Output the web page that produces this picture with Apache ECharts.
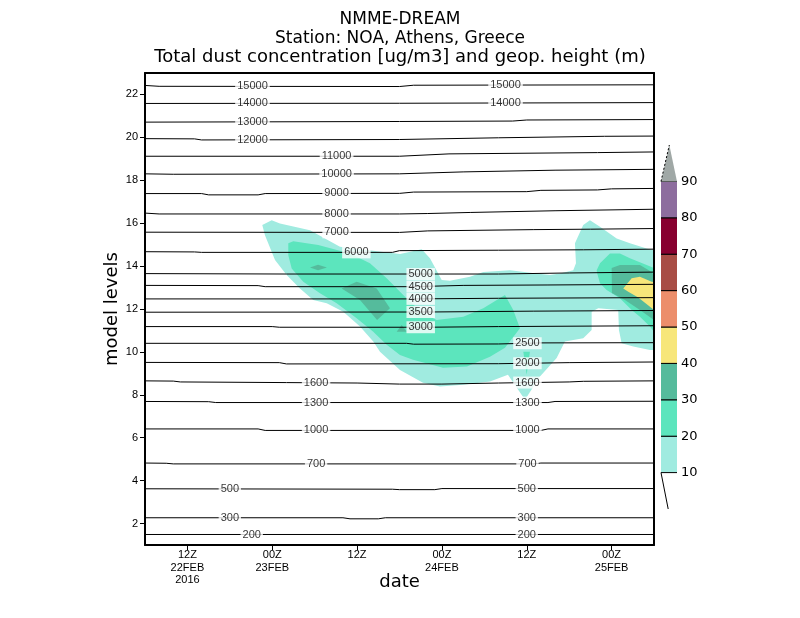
<!DOCTYPE html>
<html><head><meta charset="utf-8">
<script src="https://cdn.jsdelivr.net/npm/echarts@6/dist/echarts.min.js"></script>
<style>html,body{margin:0;padding:0;background:#fff}#c{width:800px;height:618px}</style>
</head><body><div id="c"></div>
<script>
// ---- axes (hours since 06Z 22FEB2016, model levels) ----
const timeTicks = [6, 18, 30, 42, 54, 66];
const timeTickLabels = ['12Z\n22FEB\n2016', '00Z\n23FEB', '12Z', '00Z\n24FEB', '12Z', '00Z\n25FEB'];
const levelTicks = [2, 4, 6, 8, 10, 12, 14, 16, 18, 20, 22];

// ---- dust concentration shading ----
const dustThresholds = [10, 20, 30, 40, 50, 60, 70, 80, 90];
const dustColors = ['#a0ebe0', '#5ce5bd', '#55bb9c', '#f7e67a', '#ec8e6b', '#a84d45', '#87002f', '#8d6d9e'];
const overColor = '#a0a8a6';

// regions (hour, level) where concentration >= threshold
const dust10 = [[16.59,15.91],[17.92,16.14],[19.09,15.99],[23.34,15.67],[27.58,14.90],[36.07,14.56],[39.14,14.79],[40.31,14.36],[41.97,13.35],[43.14,13.32],[45.97,13.50],[47.85,13.73],[51.63,13.81],[55.40,13.66],[57.28,13.58],[58.70,13.66],[60.58,13.81],[60.96,14.13],[60.82,15.06],[61.99,15.91],[62.94,16.14],[64.36,15.83],[66.72,15.29],[68.60,15.06],[70.96,14.82],[72,14.74],[72,10.09],[71.43,10.09],[69.07,10.25],[67.42,10.40],[67.04,11.02],[66.94,11.95],[64.12,12.03],[63.18,11.87],[63.18,11.02],[61.99,10.64],[59.40,10.48],[58.23,9.72],[55.87,8.85],[53.75,7.77],[51.34,8.93],[48.80,8.62],[44.98,8.47],[41.72,8.39],[39.32,8.56],[36.07,9.16],[33.24,10.01],[32.29,10.48],[30.41,11.18],[28.05,11.87],[25.70,12.27],[23.80,12.42],[21.92,12.96],[20.04,13.58],[18.39,14.28],[16.97,15.44]];
const dust20Main = [[20.27,15.06],[20.98,15.16],[24.51,14.98],[29.00,14.59],[31.82,14.13],[34.19,13.43],[36.07,12.80],[37.48,12.34],[39.36,11.80],[41.26,11.49],[45.02,11.64],[47.85,12.03],[50.92,12.65],[52.09,11.95],[53.04,11.10],[50.92,10.19],[48.80,9.78],[45.54,9.32],[42.15,9.26],[37.91,9.63],[36.07,9.86],[34.19,10.33],[32.29,10.94],[29.94,11.57],[27.11,12.27],[24.75,12.73],[22.39,13.27],[20.75,13.89],[20.27,14.51]];
const dust20Spike = [[53.51,10.01],[54.45,10.01],[53.99,8.93]];
const dust20Right = [[63.89,13.81],[64.36,14.13],[65.77,14.59],[67.18,14.59],[68.60,14.36],[70.96,14.05],[72,13.91],[72,10.94],[71.43,11.18],[70.01,11.64],[68.84,11.95],[67.18,12.50],[65.30,12.88],[64.36,13.20],[63.97,13.66]];
const dust30Lens = [[23.34,13.94],[24.47,14.06],[25.74,13.94],[24.47,13.81]];
const dust30Core = [[27.82,12.96],[29.94,13.27],[32.77,12.96],[34.65,12.03],[32.83,11.49],[30.41,12.42]];
const dust30Dot = [[35.60,10.94],[36.31,11.26],[37.02,10.94]];
const dust30Right = [[66.01,13.91],[67.18,14.05],[70.01,14.05],[71.67,13.73],[72,13.54],[72,11.49],[70.01,11.95],[67.89,12.42],[66.05,12.74]];
const dust40Right = [[67.65,12.96],[68.84,13.43],[70.01,13.50],[71.67,13.27],[72,13.26],[72,11.95],[71.43,12.11],[69.77,12.54],[68.36,12.80]];

// ---- geopotential height contours (hour, level) ----
const z15000 = [[0,22.42],[2,22.38],[36,22.37],[38,22.43],[72,22.45]];
const z14000 = [[0,21.58],[36,21.59],[72,21.62]];
const z13000 = [[0,20.71],[36,20.74],[52,20.76],[54,20.81],[72,20.83]];
const z12000 = [[0,19.94],[7,19.93],[8,19.88],[36,19.9],[50,19.98],[65,20.05],[72,20.06]];
const z11000 = [[0,19.12],[36,19.12],[43,19.23],[64,19.29],[72,19.32]];
const z10000 = [[0,18.3],[4,18.28],[36,18.3],[45,18.39],[58,18.47],[72,18.51]];
const z9000 = [[0,17.38],[8,17.38],[9,17.32],[16,17.32],[17,17.38],[36,17.39],[38,17.45],[54,17.47],[56,17.53],[64,17.55],[66,17.6],[72,17.62]];
const z8000 = [[0,16.47],[2,16.43],[36,16.43],[40,16.45],[46,16.5],[58,16.58],[72,16.65]];
const z7000 = [[0,15.58],[36,15.57],[40,15.64],[55,15.7],[63,15.72],[72,15.75]];
const z6000 = [[0,14.67],[7,14.66],[8,14.64],[35,14.64],[36,14.72],[50,14.74],[62,14.76],[72,14.79]];
const z5000 = [[0,13.65],[20,13.63],[50,13.63],[60,13.68],[72,13.72]];
const z4500 = [[0,13.1],[16,13.09],[17,13.04],[38,13.04],[45,13.1],[57,13.12],[72,13.15]];
const z4000 = [[0,12.47],[38,12.47],[50,12.5],[72,12.53]];
const z3500 = [[0,11.85],[40,11.86],[55,11.9],[72,11.93]];
const z3000 = [[0,11.18],[18,11.18],[19,11.15],[40,11.15],[50,11.18],[72,11.22]];
const z2500 = [[0,10.4],[37,10.4],[38,10.36],[50,10.37],[56,10.42],[72,10.43]];
const z2000 = [[0,9.51],[19,9.5],[20,9.44],[50,9.45],[60,9.5],[72,9.53]];
const z1600 = [[0,8.65],[4,8.64],[5,8.6],[20,8.57],[30,8.55],[36,8.5],[42,8.5],[50,8.55],[60,8.6],[62,8.63],[72,8.65]];
const z1300 = [[0,7.69],[9,7.68],[10,7.64],[57,7.64],[58,7.69],[72,7.7]];
const z1000 = [[0,6.41],[16,6.41],[17,6.34],[56,6.34],[57,6.41],[72,6.41]];
const z700 = [[0,4.82],[3,4.81],[4,4.78],[55,4.78],[56,4.82],[72,4.82]];
const z500 = [[0,3.62],[35,3.6],[36,3.58],[41,3.58],[42,3.63],[72,3.63]];
const z300 = [[0,2.27],[28,2.27],[29,2.22],[33,2.22],[34,2.27],[72,2.27]];
const z200 = [[0,1.49],[72,1.49]];

// contour value, line, hours where the value is written
const geoContours = [
  [15000, z15000, [15.2, 51]], [14000, z14000, [15.2, 51]], [13000, z13000, [15.2]], [12000, z12000, [15.2]],
  [11000, z11000, [27.1]], [10000, z10000, [27.1]], [9000, z9000, [27.1]], [8000, z8000, [27.1]], [7000, z7000, [27.1]],
  [6000, z6000, [29.9]], [5000, z5000, [39]], [4500, z4500, [39]], [4000, z4000, [39]], [3500, z3500, [39]], [3000, z3000, [39]],
  [2500, z2500, [54.1]], [2000, z2000, [54.1]], [1600, z1600, [24.2, 54.1]], [1300, z1300, [24.2, 54.1]],
  [1000, z1000, [24.2, 54.1]], [700, z700, [24.2, 54.1]], [500, z500, [12, 54]], [300, z300, [12, 54]], [200, z200, [15.1, 54]]
];

function interp(pts, h) {
  for (let i = 1; i < pts.length; i++) {
    if (h <= pts[i][0]) {
      const a = pts[i - 1], b = pts[i];
      return a[1] + (b[1] - a[1]) * (h - a[0]) / (b[0] - a[0]);
    }
  }
  return pts[pts.length - 1][1];
}

function areaSeries(rings, color) {
  return {
    type: 'custom', coordinateSystem: 'cartesian2d', xAxisIndex: 0, yAxisIndex: 0,
    silent: true, animation: false, z: 2,
    data: rings.map(r => r[0]),
    renderItem: (params, api) => {
      const ring = rings[params.dataIndex];
      return { type: 'polygon', shape: { points: ring.map(p => api.coord(p)) }, style: { fill: color } };
    }
  };
}

const series = [
  areaSeries([dust10], dustColors[0]),
  areaSeries([dust20Main, dust20Spike, dust20Right], dustColors[1]),
  areaSeries([dust30Lens, dust30Core, dust30Dot, dust30Right], dustColors[2]),
  areaSeries([dust40Right], dustColors[3])
];

geoContours.forEach(([v, pts]) => {
  series.push({
    type: 'line', xAxisIndex: 0, yAxisIndex: 0, data: pts, showSymbol: false, symbol: 'none',
    lineStyle: { color: '#000', width: 1 }, silent: true, animation: false, z: 3
  });
});

const labelData = [];
geoContours.forEach(([v, pts, hours]) => {
  hours.forEach(h => labelData.push({ name: String(v), value: [h, interp(pts, h)] }));
});
series.push({
  type: 'scatter', xAxisIndex: 0, yAxisIndex: 0, data: labelData, symbolSize: 0.1,
  itemStyle: { color: 'rgba(0,0,0,0)' }, silent: true, animation: false, z: 5,
  label: { show: true, position: 'inside', formatter: p => p.data.name, color: '#000', fontSize: 11,
           fontFamily: 'Liberation Sans', backgroundColor: '#fff', padding: [1, 2, 0, 2] }
});

// colour bar
series.push({
  type: 'custom', coordinateSystem: 'cartesian2d', xAxisIndex: 2, yAxisIndex: 2, silent: true, animation: false, z: 2,
  data: dustColors.map((c, i) => [dustThresholds[i], dustThresholds[i + 1]]),
  renderItem: (params, api) => {
    const lo = api.value(0), hi = api.value(1);
    const p0 = api.coord([0, hi]), p1 = api.coord([1, lo]);
    return { type: 'group', children: [
      { type: 'rect', shape: { x: p0[0], y: p0[1], width: p1[0] - p0[0], height: p1[1] - p0[1] }, style: { fill: dustColors[params.dataIndex] } },
      { type: 'line', shape: { x1: p0[0], y1: p0[1], x2: p1[0], y2: p0[1] }, style: { stroke: '#000', lineWidth: 1 } },
      { type: 'line', shape: { x1: p0[0], y1: p1[1], x2: p1[0], y2: p1[1] }, style: { stroke: '#000', lineWidth: 1 } }
    ] };
  }
});
series.push({
  type: 'custom', coordinateSystem: 'cartesian2d', xAxisIndex: 2, yAxisIndex: 2, silent: true, animation: false, z: 2,
  data: [[0, dustThresholds[dustThresholds.length - 1]]],
  renderItem: (params, api) => {
    const a = api.coord([0, 90]), b = api.coord([1, 90]), apex = api.coord([0.52, 100]);
    const c = api.coord([0, 10]), d = api.coord([0.45, 0]);
    return { type: 'group', children: [
      { type: 'polygon', shape: { points: [a, b, apex] }, style: { fill: overColor } },
      { type: 'line', shape: { x1: a[0], y1: a[1], x2: apex[0], y2: apex[1] }, style: { stroke: '#000', lineWidth: 1, lineDash: [2, 2] } },
      { type: 'line', shape: { x1: c[0], y1: c[1], x2: d[0], y2: d[1] }, style: { stroke: '#000', lineWidth: 1 } }
    ] };
  }
});

const frame = { show: true, onZero: false, lineStyle: { color: '#000', width: 2 } };
const tickFont = { color: '#000', fontSize: 11, fontFamily: 'Liberation Sans' };
const titleFont = { fontSize: 17, fontWeight: 'normal', color: '#000', fontFamily: 'DejaVu Sans', lineHeight: 20 };

const option = {
  backgroundColor: '#fff',
  animation: false,
  title: [
    { text: 'NMME-DREAM', left: 'center', top: 5, textStyle: titleFont },
    { text: 'Station: NOA, Athens, Greece', left: 'center', top: 24, textStyle: titleFont },
    { text: 'Total dust concentration [ug/m3] and geop. height (m)', left: 'center', top: 42,
      textStyle: Object.assign({}, titleFont, { fontSize: 18 }) }
  ],
  grid: [
    { left: 145, top: 73, width: 509, height: 472 },
    { left: 661, top: 145, width: 16, height: 364 }
  ],
  xAxis: [
    { gridIndex: 0, type: 'value', min: 0, max: 72, position: 'bottom', z: 10,
      axisLine: frame,
      axisTick: { show: true, customValues: timeTicks, length: 5, lineStyle: { color: '#000', width: 1 } },
      axisLabel: Object.assign({ customValues: timeTicks, margin: 4, lineHeight: 12.5,
        formatter: v => timeTickLabels[timeTicks.indexOf(v)] || '' }, tickFont),
      splitLine: { show: false },
      name: 'date', nameLocation: 'middle', nameGap: 28, nameMoveOverlap: false,
      nameTextStyle: { fontSize: 18, color: '#000', fontFamily: 'DejaVu Sans' } },
    { gridIndex: 0, type: 'value', min: 0, max: 72, position: 'top', z: 10,
      axisLine: frame, axisTick: { show: false }, axisLabel: { show: false }, splitLine: { show: false } },
    { gridIndex: 1, type: 'value', min: 0, max: 1, show: false }
  ],
  yAxis: [
    { gridIndex: 0, type: 'value', min: 1, max: 23, position: 'left', z: 10,
      axisLine: frame,
      axisTick: { show: true, customValues: levelTicks, length: 5, lineStyle: { color: '#000', width: 1 } },
      axisLabel: Object.assign({ customValues: levelTicks, margin: 7 }, tickFont),
      splitLine: { show: false },
      name: 'model levels', nameLocation: 'middle', nameGap: 24, nameMoveOverlap: false,
      nameTextStyle: { fontSize: 18, color: '#000', fontFamily: 'DejaVu Sans' } },
    { gridIndex: 0, type: 'value', min: 1, max: 23, position: 'right', z: 10,
      axisLine: frame, axisTick: { show: false }, axisLabel: { show: false }, splitLine: { show: false } },
    { gridIndex: 1, type: 'value', min: 0, max: 100, interval: 10, position: 'right',
      axisLine: { show: false }, axisTick: { show: false }, splitLine: { show: false },
      axisLabel: { margin: 4, color: '#000', fontSize: 13, fontFamily: 'DejaVu Sans',
        formatter: v => (v >= 10 && v <= 90) ? String(v) : '' } }
  ],
  series: series
};

const chart = echarts.init(document.getElementById('c'));
chart.setOption(option);
</script>
</body></html>
